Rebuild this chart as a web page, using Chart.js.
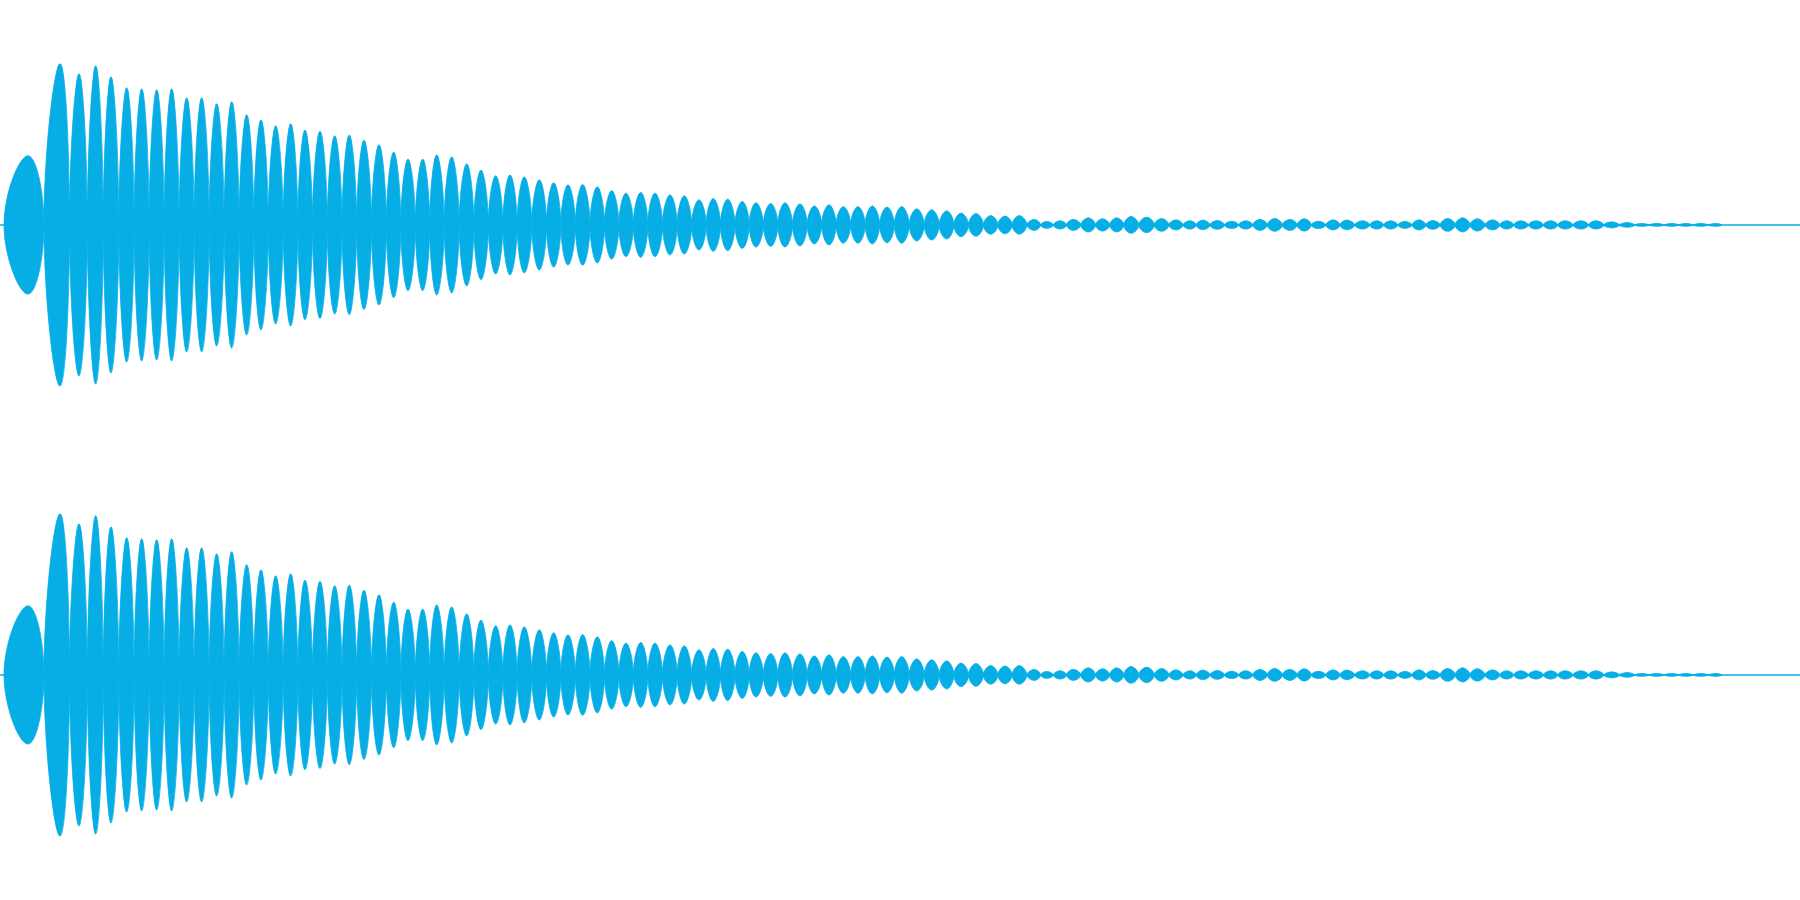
<!DOCTYPE html>
<html>
<head>
<meta charset="utf-8">
<script src="https://cdn.jsdelivr.net/npm/chart.js@4.4.0/dist/chart.umd.min.js"></script>
<style>
  html, body { margin: 0; padding: 0; background: #fff; overflow: hidden; }
  canvas { display: block; }
</style>
</head>
<body>
<canvas id="left" width="1800" height="450"></canvas>
<canvas id="right" width="1800" height="450"></canvas>
<script>
// time of each lobe peak (ms)
const lobeTimes = [
  28, 60, 79, 95.7, 111, 126.7, 141.7, 156.7, 171.7, 186.7,
  201.7, 216.7, 231.7, 246.7, 261, 275.7, 290.7, 305, 320, 334.7,
  349.3, 364, 379, 393.7, 408, 422.7, 436.7, 451.7, 466.7, 481,
  495.7, 510, 524.3, 539.3, 553.7, 568, 582.7, 597.3, 611.7, 626,
  640.7, 655, 670, 684.3, 699, 713.3, 727.7, 742.3, 756, 770.7,
  785, 800, 814.3, 829, 843.3, 858, 872.3, 887, 901.7, 916.7,
  931.7, 946.7, 961, 976, 990.7, 1005, 1019.3, 1034.3, 1046.7, 1060,
  1073.3, 1088.3, 1102.7, 1116.7, 1131, 1146.7, 1161.7, 1176, 1190, 1202.7,
  1217.3, 1231.7, 1245.7, 1260, 1274.7, 1290, 1304.3, 1318.3, 1333.3, 1346.7,
  1362.7, 1376.7, 1390.7, 1405, 1419, 1432.7, 1447.7, 1462.7, 1477.3, 1492.7,
  1506.7, 1520.7, 1536, 1550.7, 1565, 1581, 1596, 1611.7, 1627.3, 1641.7,
  1656.7, 1671.7, 1685.7, 1700.7, 1716
]

// peak level of each lobe, % of full scale
const leftPeaks = [
  30.7, 71.6, 67.1, 70.7, 65.8, 60.9, 60.4, 60, 60.4, 56.4,
  56.4, 53.8, 54.7, 48.9, 46.7, 44, 44.9, 42.1, 41.6, 39.6,
  39.9, 37.6, 35.6, 32.3, 29.2, 29.2, 31.1, 30.2, 27.1, 24.3,
  21.8, 22.2, 21.3, 20, 18.7, 17.8, 17.9, 16.9, 15.2, 14.1,
  14.4, 14.1, 13.3, 12.9, 11.1, 11.7, 11.4, 10.4, 9.8, 9.5,
  9.8, 9.3, 8.4, 8.9, 8.1, 8.1, 8.4, 7.9, 8.1, 7.1,
  6.7, 6.2, 5.2, 5.0, 4.1, 3.9, 4.1, 2.4, 1.5, 1.8,
  2.4, 3.1, 2.7, 3.1, 3.7, 3.4, 2.8, 2.2, 1.8, 2.1,
  1.9, 1.6, 1.8, 2.4, 2.8, 2.4, 2.7, 1.6, 2.2, 2.1,
  1.8, 1.8, 1.8, 1.5, 2.2, 1.9, 2.8, 3.1, 2.7, 2.2,
  1.8, 1.8, 1.8, 1.8, 1.8, 1.8, 1.8, 1.3, 1.0, 0.6,
  0.6, 0.6, 0.6, 0.6, 0.6
]
const rightPeaks = [...leftPeaks]

const soundStart = 4
const soundEnd = 1722
const trackLength = 1800
const waveColor = '#07aee6'

// one closed dataset per lobe: left edge, top, right edge, bottom, and round again
// (going round one extra quarter keeps every join smooth)
function lobeDatasets(peaks) {
    return peaks.map((p, i) => {
        const t = lobeTimes[i]
        const left = i === 0 ? soundStart : (lobeTimes[i - 1] + t) / 2
        const right = i === peaks.length - 1 ? soundEnd : (t + lobeTimes[i + 1]) / 2
        return {
            data: [
                { x: left, y: 0 }, { x: t, y: p }, { x: right, y: 0 }, { x: t, y: -p },
                { x: left, y: 0 }, { x: t, y: p }, { x: right, y: 0 }
            ],
            fill: 'shape',
            backgroundColor: waveColor,
            borderColor: waveColor,
            borderWidth: 0.8
        }
    })
}

function drawChannel(id, peaks) {
    const datasets = lobeDatasets(peaks)
    datasets.push({
        data: [{ x: 0, y: 0 }, { x: trackLength, y: 0 }],
        borderColor: waveColor,
        borderWidth: 1.5,
        tension: 0,
        fill: false
    })

    new Chart(document.getElementById(id), {
        type: 'line',
        data: { datasets },
        options: {
            responsive: false,
            animation: false,
            layout: { padding: 0 },
            plugins: { legend: { display: false }, tooltip: { enabled: false } },
            elements: { point: { radius: 0 }, line: { tension: 0.45 } },
            scales: {
                x: { type: 'linear', min: 0, max: trackLength, display: false },
                y: { min: -100, max: 100, display: false }
            }
        }
    })
}

drawChannel('left', leftPeaks)
drawChannel('right', rightPeaks)
</script>
</body>
</html>
